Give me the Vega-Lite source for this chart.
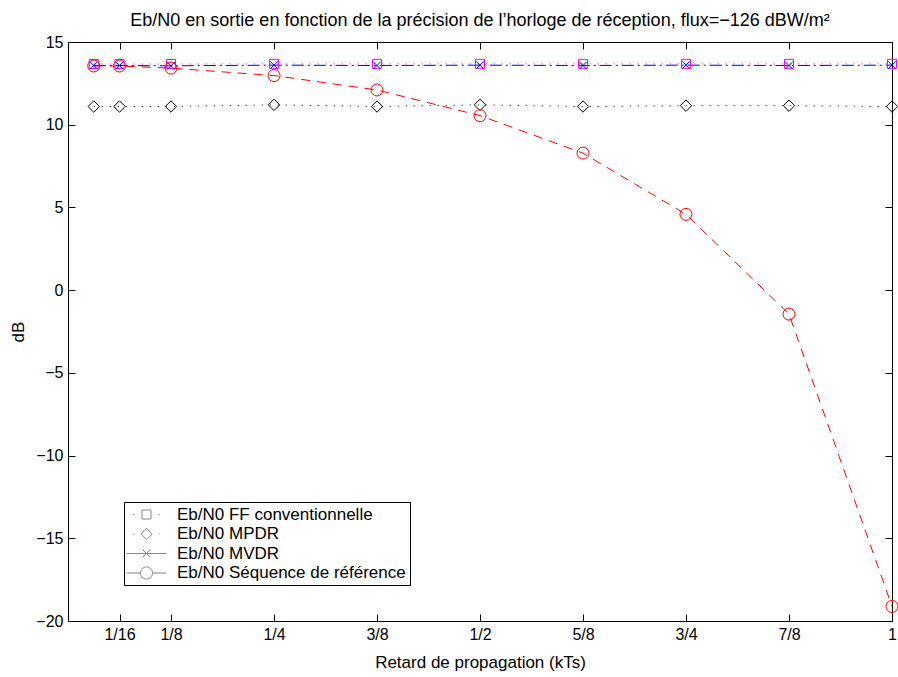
{
  "$schema": "https://vega.github.io/schema/vega-lite/v6.json",
  "width": 824,
  "height": 579,
  "autosize": {"type": "none"},
  "padding": {"left": 68, "top": 42, "right": 6, "bottom": 56},
  "background": "white",
  "title": {
    "text": "Eb/N0 en sortie en fonction de la précision de l’horloge de réception, flux=−126 dBW/m²",
    "font": "Liberation Sans",
    "fontSize": 18,
    "fontWeight": "normal",
    "color": "black",
    "offset": 4,
    "anchor": "middle"
  },
  "config": {
    "view": {"stroke": null},
    "axis": {
      "domainColor": "black",
      "domainWidth": 1,
      "tickColor": "black",
      "tickWidth": 1,
      "tickSize": -7,
      "labelFont": "Liberation Sans",
      "labelFontSize": 16,
      "labelColor": "black",
      "labelPadding": 12,
      "titleFont": "Liberation Sans",
      "titleFontSize": 17,
      "titleFontWeight": "normal",
      "titleColor": "black",
      "grid": false
    },
    "legend": {
      "orient": "none",
      "legendX": 56,
      "legendY": 460,
      "title": null,
      "strokeColor": "black",
      "fillColor": "white",
      "padding": 4,
      "symbolOffset": 10,
      "labelOffset": 22,
      "symbolSize": 144,
      "symbolStrokeWidth": 1,
      "labelFont": "Liberation Sans",
      "labelFontSize": 17,
      "labelColor": "black",
      "labelLimit": 500,
      "rowPadding": 1.5
    }
  },
  "data": {
    "values": [
      {"x": 0.03125, "y": 13.67, "s": "Eb/N0 FF conventionnelle"},
      {"x": 0.0625, "y": 13.67, "s": "Eb/N0 FF conventionnelle"},
      {"x": 0.125, "y": 13.67, "s": "Eb/N0 FF conventionnelle"},
      {"x": 0.25, "y": 13.68, "s": "Eb/N0 FF conventionnelle"},
      {"x": 0.375, "y": 13.68, "s": "Eb/N0 FF conventionnelle"},
      {"x": 0.5, "y": 13.68, "s": "Eb/N0 FF conventionnelle"},
      {"x": 0.625, "y": 13.68, "s": "Eb/N0 FF conventionnelle"},
      {"x": 0.75, "y": 13.68, "s": "Eb/N0 FF conventionnelle"},
      {"x": 0.875, "y": 13.68, "s": "Eb/N0 FF conventionnelle"},
      {"x": 1, "y": 13.68, "s": "Eb/N0 FF conventionnelle"},
      {"x": 0.03125, "y": 11.1, "s": "Eb/N0 MPDR"},
      {"x": 0.0625, "y": 11.1, "s": "Eb/N0 MPDR"},
      {"x": 0.125, "y": 11.1, "s": "Eb/N0 MPDR"},
      {"x": 0.25, "y": 11.2, "s": "Eb/N0 MPDR"},
      {"x": 0.375, "y": 11.1, "s": "Eb/N0 MPDR"},
      {"x": 0.5, "y": 11.2, "s": "Eb/N0 MPDR"},
      {"x": 0.625, "y": 11.1, "s": "Eb/N0 MPDR"},
      {"x": 0.75, "y": 11.15, "s": "Eb/N0 MPDR"},
      {"x": 0.875, "y": 11.15, "s": "Eb/N0 MPDR"},
      {"x": 1, "y": 11.1, "s": "Eb/N0 MPDR"},
      {"x": 0.03125, "y": 13.58, "s": "Eb/N0 MVDR"},
      {"x": 0.0625, "y": 13.58, "s": "Eb/N0 MVDR"},
      {"x": 0.125, "y": 13.56, "s": "Eb/N0 MVDR"},
      {"x": 0.25, "y": 13.6, "s": "Eb/N0 MVDR"},
      {"x": 0.375, "y": 13.58, "s": "Eb/N0 MVDR"},
      {"x": 0.5, "y": 13.6, "s": "Eb/N0 MVDR"},
      {"x": 0.625, "y": 13.58, "s": "Eb/N0 MVDR"},
      {"x": 0.75, "y": 13.6, "s": "Eb/N0 MVDR"},
      {"x": 0.875, "y": 13.58, "s": "Eb/N0 MVDR"},
      {"x": 1, "y": 13.6, "s": "Eb/N0 MVDR"},
      {"x": 0.03125, "y": 13.55, "s": "Eb/N0 Séquence de référence"},
      {"x": 0.0625, "y": 13.55, "s": "Eb/N0 Séquence de référence"},
      {"x": 0.125, "y": 13.42, "s": "Eb/N0 Séquence de référence"},
      {"x": 0.25, "y": 12.97, "s": "Eb/N0 Séquence de référence"},
      {"x": 0.375, "y": 12.1, "s": "Eb/N0 Séquence de référence"},
      {"x": 0.5, "y": 10.55, "s": "Eb/N0 Séquence de référence"},
      {"x": 0.625, "y": 8.28, "s": "Eb/N0 Séquence de référence"},
      {"x": 0.75, "y": 4.58, "s": "Eb/N0 Séquence de référence"},
      {"x": 0.875, "y": -1.45, "s": "Eb/N0 Séquence de référence"},
      {"x": 1, "y": -19.12, "s": "Eb/N0 Séquence de référence"}
    ]
  },
  "layer": [
    {
      "transform": [{"filter": "datum.s === 'Eb/N0 FF conventionnelle'"}],
      "mark": {"type": "line", "strokeWidth": 1, "color": "#ff00ff", "strokeDash": [1, 7]},
      "encoding": {
        "x": {
          "field": "x", "type": "quantitative",
          "scale": {"domain": [0, 1], "nice": false, "zero": false},
          "axis": {
            "values": [0.0625, 0.125, 0.25, 0.375, 0.5, 0.625, 0.75, 0.875, 1],
            "labelExpr": "datum.value == 0.0625 ? '1/16' : datum.value == 0.125 ? '1/8' : datum.value == 0.25 ? '1/4' : datum.value == 0.375 ? '3/8' : datum.value == 0.5 ? '1/2' : datum.value == 0.625 ? '5/8' : datum.value == 0.75 ? '3/4' : datum.value == 0.875 ? '7/8' : '1'",
            "title": "Retard de propagation (kTs)",
            "titlePadding": 12,
            "labelFlush": false,
            "labelOverlap": false
          }
        },
        "y": {
          "field": "y", "type": "quantitative",
          "scale": {"domain": [-20, 15], "nice": false, "zero": false},
          "axis": {
            "values": [-20, -15, -10, -5, 0, 5, 10, 15],
            "title": "dB",
            "titlePadding": 8,
            "labelFlush": false,
            "labelOverlap": false
          }
        }
      }
    },
    {
      "transform": [{"filter": "datum.s === 'Eb/N0 MPDR'"}],
      "mark": {"type": "line", "strokeWidth": 1, "color": "#000000", "strokeDash": [1, 7]},
      "encoding": {
        "x": {"field": "x", "type": "quantitative", "axis": null},
        "y": {"field": "y", "type": "quantitative", "axis": null}
      }
    },
    {
      "transform": [{"filter": "datum.s === 'Eb/N0 MVDR'"}],
      "mark": {"type": "line", "strokeWidth": 1, "color": "#0000ff", "strokeDash": [12, 4, 2, 4]},
      "encoding": {
        "x": {"field": "x", "type": "quantitative", "axis": null},
        "y": {"field": "y", "type": "quantitative", "axis": null}
      }
    },
    {
      "transform": [{"filter": "datum.s === 'Eb/N0 Séquence de référence'"}],
      "mark": {"type": "line", "strokeWidth": 1, "color": "#ff0000", "strokeDash": [9, 7]},
      "encoding": {
        "x": {"field": "x", "type": "quantitative", "axis": null},
        "y": {"field": "y", "type": "quantitative", "axis": null}
      }
    },
    {
      "mark": {"type": "point", "filled": false, "size": 144, "strokeWidth": 1, "opacity": 1},
      "encoding": {
        "x": {
          "field": "x", "type": "quantitative",
          "axis": {
            "orient": "top",
            "values": [0.0625, 0.125, 0.25, 0.375, 0.5, 0.625, 0.75, 0.875, 1],
            "labels": false,
            "title": null
          }
        },
        "y": {
          "field": "y", "type": "quantitative",
          "axis": {
            "orient": "right",
            "values": [-20, -15, -10, -5, 0, 5, 10, 15],
            "labels": false,
            "title": null
          }
        },
        "color": {
          "field": "s", "type": "nominal",
          "scale": {
            "domain": ["Eb/N0 FF conventionnelle", "Eb/N0 MPDR", "Eb/N0 MVDR", "Eb/N0 Séquence de référence"],
            "range": ["#ff00ff", "#000000", "#0000ff", "#ff0000"]
          }
        },
        "shape": {
          "field": "s", "type": "nominal",
          "scale": {
            "domain": ["Eb/N0 FF conventionnelle", "Eb/N0 MPDR", "Eb/N0 MVDR", "Eb/N0 Séquence de référence"],
            "range": [
              "M-0.75,-0.75L0.75,-0.75L0.75,0.75L-0.75,0.75Z",
              "M-0.95,0L0,-0.95L0.95,0L0,0.95Z",
              "M-0.65,-0.65L0.65,0.65M-0.65,0.65L0.65,-0.65",
              "circle"
            ]
          },
          "legend": null
        }
      }
    },
    {
      "mark": {"type": "point", "filled": false, "size": 0, "strokeWidth": 1, "opacity": 1},
      "encoding": {
        "x": {"field": "x", "type": "quantitative", "axis": null},
        "y": {"field": "y", "type": "quantitative", "axis": null},
        "color": {"field": "s", "type": "nominal"},
        "shape": {
          "field": "s", "type": "nominal",
          "scale": {
            "domain": ["Eb/N0 FF conventionnelle", "Eb/N0 MPDR", "Eb/N0 MVDR", "Eb/N0 Séquence de référence"],
            "range": [
              "M-2.2,0L-2.03,0M2.03,0L2.2,0M-0.75,-0.75L0.75,-0.75L0.75,0.75L-0.75,0.75Z",
              "M-2.2,0L-2.03,0M2.03,0L2.2,0M-0.95,0L0,-0.95L0.95,0L0,0.95Z",
              "M-3.3,0L3.3,0M-0.65,-0.65L0.65,0.65M-0.65,0.65L0.65,-0.65",
              "M-3.3,0L-1,0M1,0L3.3,0M-1,0A1,1,0,1,0,1,0A1,1,0,1,0,-1,0Z"
            ]
          },
          "legend": {
            "encode": {
              "symbols": {
                "stroke": {"value": {"expr": "scale('color', datum.value)"}}
              }
            }
          }
        }
      }
    }
  ],
  "resolve": {
    "axis": {"x": "independent", "y": "independent"},
    "scale": {"shape": "independent"}
  }
}
